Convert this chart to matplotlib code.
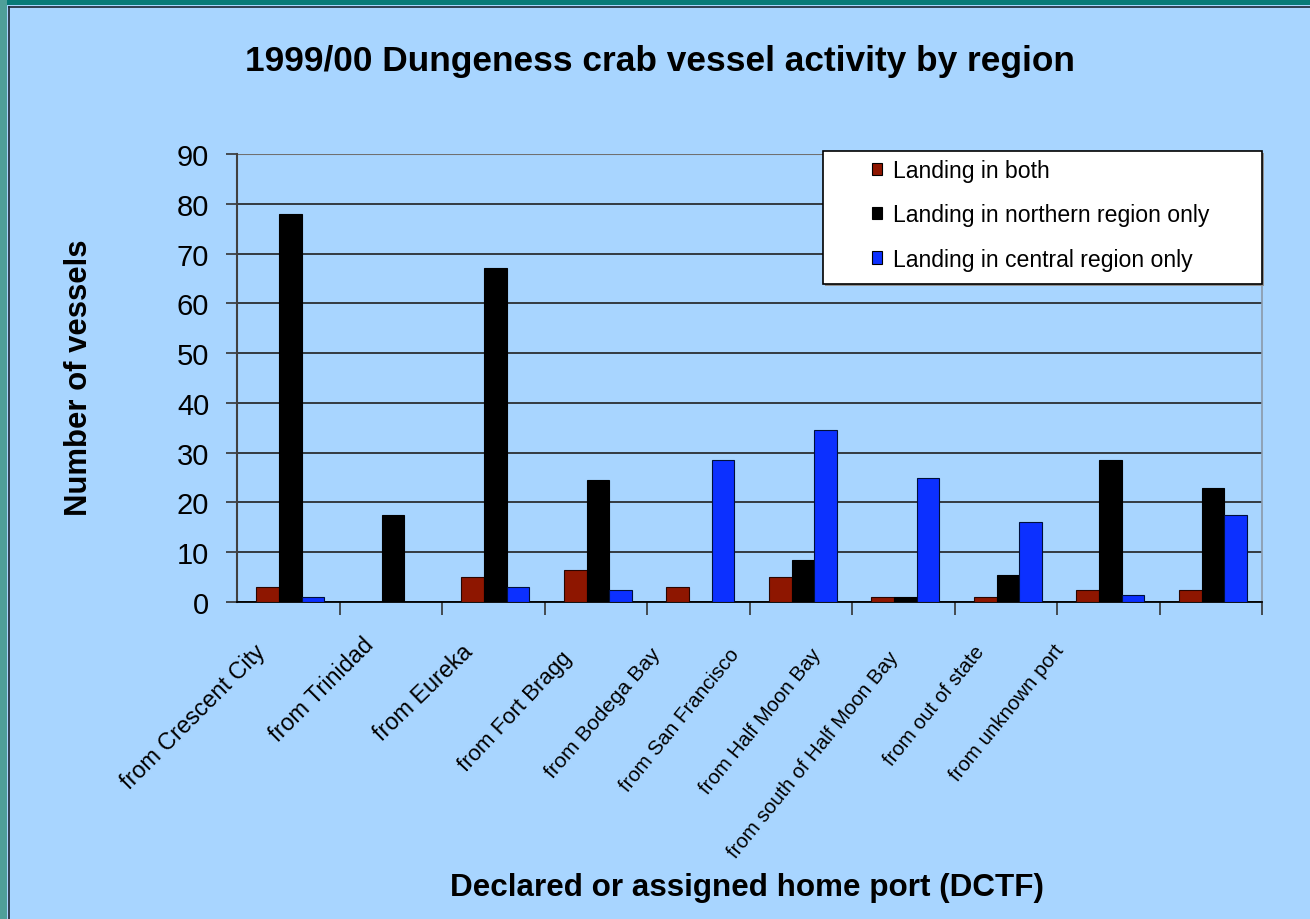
import matplotlib
matplotlib.use("Agg")
import matplotlib.pyplot as plt
from matplotlib.patches import Rectangle, Patch
from matplotlib.lines import Line2D
import numpy as np

plt.rcParams['font.family'] = ['Liberation Sans', 'DejaVu Sans']

# ---- data ----
ports = ["from Crescent City", "from Trinidad", "from Eureka", "from Fort Bragg",
         "from Bodega Bay", "from San Francisco", "from Half Moon Bay",
         "from south of Half Moon Bay", "from out of state", "from unknown port"]
landing_both = [3, 0, 5, 6.5, 3, 5, 1, 1, 2.5, 2.5]
landing_north = [78, 17.5, 67, 24.5, 0, 8.5, 1, 5.5, 28.5, 23]
landing_central = [1, 0, 3, 2.5, 28.5, 34.5, 25, 16, 1.5, 17.5]
series_names = ["Landing in both", "Landing in northern region only",
                "Landing in central region only"]
y_ticks = list(range(0, 91, 10))

# ---- style ----
BG = '#A8D5FF'
RED = '#8E1600'
BLACK = '#000000'
BLUE = '#0C30FF'
W, H = 1310, 920

fig = plt.figure(figsize=(W / 100, H / 100), dpi=100, facecolor=BG)

def fx(px):
    return px / W

def fy(py):
    return 1 - py / H

ax = fig.add_axes([fx(237), fy(603), fx(1262) - fx(237), fy(155) - fy(603)])
ax.set_facecolor(BG)

x = np.arange(len(ports))
bw = 0.22
ax.bar(x - bw + 0.02, landing_both, bw, color=RED, edgecolor='#2a0500', linewidth=0.8, zorder=3)
ax.bar(x + 0.02, landing_north, bw, color=BLACK, edgecolor='#000000', linewidth=0.8, zorder=3)
ax.bar(x + bw + 0.02, landing_central, bw, color=BLUE, edgecolor='#00103a', linewidth=0.8, zorder=3)

ax.set_xlim(-0.5, len(ports) - 0.5)
ax.set_ylim(0, 90)
ax.set_yticks(y_ticks)
ax.tick_params(axis='y', labelsize=21, length=8, width=1.2, color='#333333', pad=12)
ax.set_xticks(np.arange(0.5, len(ports) - 0.4, 1))
ax.set_xticklabels([])
ax.tick_params(axis='x', length=9, width=1.2, color='#333333', direction='out')

ax.yaxis.grid(True, color='#202020', linewidth=1.2, zorder=0)
ax.set_axisbelow(True)
ax.spines['top'].set_visible(False)
ax.spines['right'].set_color('#8a9aaa')
ax.spines['right'].set_linewidth(1.2)
ax.spines['left'].set_color('#404040')
ax.spines['left'].set_linewidth(1.5)
ax.spines['bottom'].set_color('#000000')
ax.spines['bottom'].set_linewidth(1.3)
ax.axhline(90, color='#707070', linewidth=1.5, zorder=1)

# rotated category labels (layout: end point in pixels, angle, size)
label_end_x = [254, 362, 461, 561, 650, 728, 810, 887, 973, 1053]
label_end_y = [641, 633, 640, 648, 645, 645, 645, 648, 643, 641]
label_rot = [45, 45, 44, 47, 49, 51, 51, 51, 51, 51]
label_size = [16.8, 16.8, 16.8, 16.0, 15.4, 14.8, 14.8, 14.8, 14.8, 14.8]
for name, px, py, rot, fs in zip(ports, label_end_x, label_end_y, label_rot, label_size):
    fig.text(fx(px), fy(py), name, rotation=rot, rotation_mode='anchor',
             ha='right', va='top', fontsize=fs, color='black')

# titles
fig.text(fx(660), fy(62), "1999/00 Dungeness crab vessel activity by region",
         ha='center', va='center', fontsize=25.4, fontweight='bold')
fig.text(fx(79), fy(378), "Number of vessels", rotation=90,
         ha='center', va='center', fontsize=22.4, fontweight='bold')
fig.text(fx(747), fy(888), "Declared or assigned home port (DCTF)",
         ha='center', va='center', fontsize=22.6, fontweight='bold')

# legend frame + legend
fig.patches.append(Rectangle((fx(825), fy(287)), fx(1264) - fx(825), fy(154) - fy(287),
                             transform=fig.transFigure, facecolor='#909090',
                             edgecolor='none', zorder=4))
fig.patches.append(Rectangle((fx(823), fy(285)), fx(1262) - fx(823), fy(152) - fy(285),
                             transform=fig.transFigure, facecolor='white',
                             edgecolor='black', linewidth=1.2, zorder=5))
handles = [Patch(facecolor=RED, edgecolor='black', linewidth=0.8),
           Patch(facecolor=BLACK, edgecolor='black', linewidth=0.8),
           Patch(facecolor=BLUE, edgecolor='black', linewidth=0.8)]
leg = fig.legend(handles, series_names, loc='upper left',
                 bbox_to_anchor=(fx(872), fy(160)), bbox_transform=fig.transFigure,
                 frameon=False, fontsize=16.6, handlelength=0.45, handleheight=0.45,
                 handletextpad=0.45, labelspacing=0.93, borderpad=0, borderaxespad=0)
leg.set_zorder(6)

# teal border (top & left)
fig.patches.append(Rectangle((0, fy(6)), 1, fy(0) - fy(6), transform=fig.transFigure,
                             facecolor='#077a78', edgecolor='none'))
fig.patches.append(Rectangle((0, 0), fx(7), 1, transform=fig.transFigure,
                             facecolor='#4f9f99', edgecolor='none'))
fig.lines.append(Line2D([fx(8.5), fx(8.5)], [0, fy(7.5)], transform=fig.transFigure,
                        color='#1c2535', linewidth=1.2))
fig.lines.append(Line2D([fx(8.5), 1], [fy(7.5), fy(7.5)], transform=fig.transFigure,
                        color='#1c2535', linewidth=1.2))

fig.savefig("out.png", dpi=100, facecolor=BG)
